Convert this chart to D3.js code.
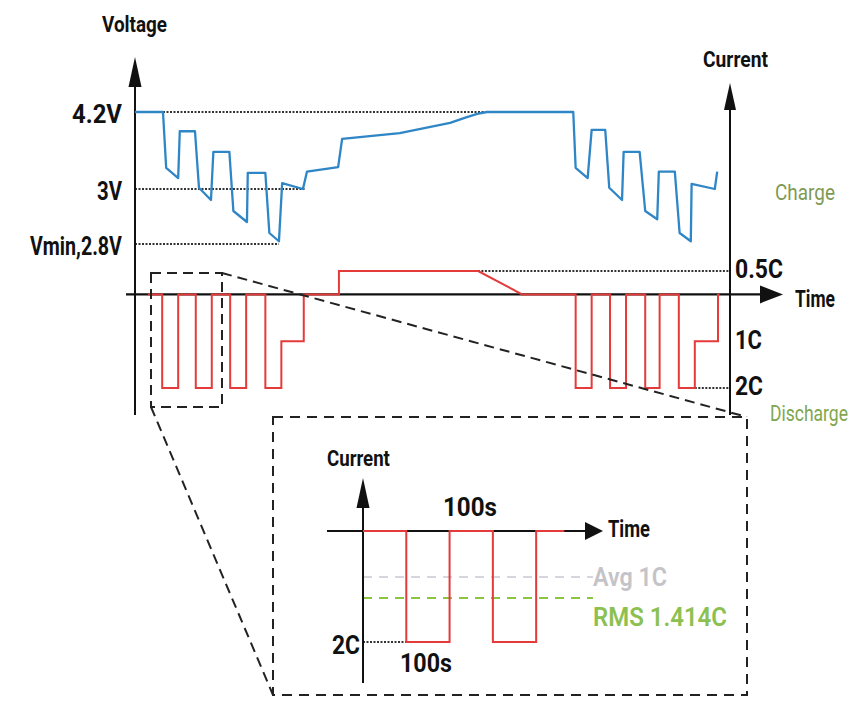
<!DOCTYPE html>
<html>
<head>
<meta charset="utf-8">
<script src="https://cdn.jsdelivr.net/npm/d3@7"></script>
<style>
  body { margin: 0; background: #fff; }
  text { font-family: "Roboto", "Liberation Sans", sans-serif; }
</style>
</head>
<body>
<script>
// --- datos (tiempo en s, tension en V, corriente en C) ---
const voltageSeries = [
  [0,4.2],[175,4.2],[195,3.33],[270,3.17],[280,3.90],[375,3.90],[400,3.02],[475,2.96],
  [490,3.58],[590,3.58],[615,2.92],[700,2.88],[705,3.25],[815,3.25],[840,2.84],[900,2.81],
  [920,3.09],[1050,3.00],[1075,3.27],[1270,3.34],[1295,3.78],[1655,3.87],[1970,4.03],
  [2075,4.12],[2140,4.17],[2200,4.2],[2740,4.2],[2755,3.33],[2830,3.17],[2855,3.92],
  [2940,3.92],[2965,3.02],[3045,2.96],[3055,3.58],[3155,3.58],[3190,2.92],[3265,2.89],
  [3275,3.27],[3375,3.27],[3405,2.84],[3475,2.81],[3480,3.08],[3625,3.00],[3640,3.27]
];
const currentSeries = [
  [80,0],[170,0],[170,-2],[270,-2],[270,0],[380,0],[380,-2],[480,-2],[480,0],[595,0],
  [595,-2],[695,-2],[695,0],[815,0],[815,-2],[915,-2],[915,-1],[1055,-1],[1055,0],
  [1275,0],[1275,0.5],[2145,0.5],[2420,0],[2755,0],[2755,-2],[2855,-2],[2855,0],
  [2970,0],[2970,-2],[3070,-2],[3070,0],[3190,0],[3190,-2],[3280,-2],[3280,0],[3400,0],
  [3400,-2],[3500,-2],[3500,-1],[3645,-1],[3645,0],[3655,0]
];
const voltageTicks = [4.2, 3.0, 2.8];
const voltageTickLabels = ["4.2V", "3V", "Vmin,2.8V"];
const voltageGuideEnd = [2450, 1060, 900];
const currentTicks = [0.5, -1, -2];
const currentTickLabels = ["0.5C", "1C", "2C"];
const currentGuideStart = [2100, null, 3500];

// recuadro ampliado: dos pulsos de 100 s a 2C
const insetSeries = [[0,0],[100,0],[100,-2],[200,-2],[200,0],[300,0],[300,-2],[400,-2],[400,0],[465,0]];
const insetLevels = [-1, -1.414];
const insetLevelLabels = ["Avg 1C", "RMS 1.414C"];

const W = 856, H = 701;
const svg = d3.select("body").append("svg").attr("width", W).attr("height", H);

// escalas (el dibujo original no es lineal en tension)
const x = d3.scaleLinear().domain([0, 3720]).range([135, 730]);
const yV = d3.scaleLinear().domain([2.8, 3.0, 4.2]).range([244, 189, 112]);
const yI = d3.scaleLinear().domain([-2, 0.5]).range([388, 271]);
const xIn = d3.scaleLinear().domain([0, 465]).range([363, 564.3]);
const yIn = d3.scaleLinear().domain([-2, -1.414, -1, 0]).range([642, 598, 577, 531]);

const INK = "#111";
const DASH = "#222";

// texto estrecho: se mide y se comprime en horizontal con transform
function label(g, txt, x0, width, cy, size, color, weight) {
  const t = g.append("text")
    .attr("x", 0).attr("y", 0)
    .attr("font-size", size)
    .attr("font-weight", weight || 700)
    .attr("fill", color || INK)
    .text(txt);
  const natural = t.node().getComputedTextLength();
  const sx = natural > 0 ? width / natural : 1;
  t.attr("transform", `translate(${x0},${cy + size * 0.36}) scale(${sx},1)`);
}
function arrowUp(g, ax, tip, base, half) {
  g.append("path").attr("d", `M${ax},${tip}L${ax + half},${base}L${ax - half},${base}Z`).attr("fill", INK);
}
function arrowRight(g, ay, tip, base, half) {
  g.append("path").attr("d", `M${tip},${ay}L${base},${ay - half}L${base},${ay + half}Z`).attr("fill", INK);
}

const main = svg.append("g");

// lineas de guia punteadas
voltageTicks.forEach((v, i) => {
  main.append("line")
    .attr("x1", x(0)).attr("x2", x(voltageGuideEnd[i]))
    .attr("y1", yV(v)).attr("y2", yV(v))
    .attr("stroke", "#333").attr("stroke-width", 2).attr("stroke-dasharray", "2,1.5");
});
currentTicks.forEach((c, i) => {
  if (currentGuideStart[i] === null) return;
  main.append("line")
    .attr("x1", x(currentGuideStart[i])).attr("x2", x(3720))
    .attr("y1", yI(c)).attr("y2", yI(c))
    .attr("stroke", "#333").attr("stroke-width", 2).attr("stroke-dasharray", "2,1.5");
});

// lineas discontinuas del zoom
const zoomG = svg.append("g").attr("fill", "none").attr("stroke", DASH)
  .attr("stroke-width", 2).attr("stroke-dasharray", "10,6");
zoomG.append("rect").attr("x", 151).attr("y", 273).attr("width", 71).attr("height", 134);
zoomG.append("line").attr("x1", 222).attr("y1", 273).attr("x2", 747).attr("y2", 417);
zoomG.append("line").attr("x1", 151).attr("y1", 407).attr("x2", 273).attr("y2", 695);
zoomG.append("rect").attr("x", 273).attr("y", 417).attr("width", 474).attr("height", 278)
  .attr("fill", "#fff").attr("stroke-dasharray", "10,7");

// ejes principales
main.append("line").attr("x1", 135).attr("x2", 135).attr("y1", 85).attr("y2", 415).attr("stroke", INK).attr("stroke-width", 2);
arrowUp(main, 135, 57, 87, 6.5);
main.append("line").attr("x1", 730).attr("x2", 730).attr("y1", 108).attr("y2", 415).attr("stroke", INK).attr("stroke-width", 2);
arrowUp(main, 730, 83, 110, 6);
main.append("line").attr("x1", 126).attr("x2", 762).attr("y1", yI(0)).attr("y2", yI(0)).attr("stroke", INK).attr("stroke-width", 2.2);
arrowRight(main, yI(0), 783, 760, 9);

// series
const lineV = d3.line().x(d => x(d[0])).y(d => yV(d[1]));
const lineI = d3.line().x(d => x(d[0])).y(d => yI(d[1]));
main.append("path").datum(voltageSeries).attr("d", lineV)
  .attr("fill", "none").attr("stroke", "#2f86c6").attr("stroke-width", 2.3).attr("stroke-linejoin", "round");
main.append("path").datum(currentSeries).attr("d", lineI)
  .attr("fill", "none").attr("stroke", "#e53a3a").attr("stroke-width", 2);

// textos principales
const voltageLabelWidth = [50, 25, 92];
voltageTicks.forEach((v, i) => {
  label(main, voltageTickLabels[i], 122 - voltageLabelWidth[i], voltageLabelWidth[i], yV(v) + 2, 26);
});
const currentLabelWidth = [48, 27, 28];
currentTicks.forEach((c, i) => {
  label(main, currentTickLabels[i], 735, currentLabelWidth[i], yI(c) - 2, 26);
});
label(main, "Voltage", 102, 65, 24, 22);
label(main, "Current", 703, 65, 59, 22);
label(main, "Time", 795, 40, 298, 24);
label(main, "Charge", 775, 60, 192, 22, "#7e9a52", 400);
label(main, "Discharge", 770, 78, 413, 22, "#7fa64e", 400);

// recuadro
const inset = svg.append("g");
insetLevels.forEach((lv, i) => {
  inset.append("line")
    .attr("x1", xIn(0)).attr("x2", 593)
    .attr("y1", yIn(lv)).attr("y2", yIn(lv))
    .attr("stroke", i === 0 ? "#d6d6de" : "#8cc63f")
    .attr("stroke-width", 2).attr("stroke-dasharray", "9,7");
});
inset.append("line").attr("x1", xIn(0)).attr("x2", xIn(100)).attr("y1", yIn(-2)).attr("y2", yIn(-2))
  .attr("stroke", "#333").attr("stroke-width", 2).attr("stroke-dasharray", "2,1.5");
inset.append("line").attr("x1", 363).attr("x2", 363).attr("y1", 505).attr("y2", 683).attr("stroke", INK).attr("stroke-width", 2);
arrowUp(inset, 363, 478, 508, 6.5);
inset.append("line").attr("x1", 327).attr("x2", 588).attr("y1", yIn(0)).attr("y2", yIn(0)).attr("stroke", INK).attr("stroke-width", 2.2);
arrowRight(inset, yIn(0), 603, 585, 9);
const lineIn = d3.line().x(d => xIn(d[0])).y(d => yIn(d[1]));
inset.append("path").datum(insetSeries).attr("d", lineIn)
  .attr("fill", "none").attr("stroke", "#e53a3a").attr("stroke-width", 2);

label(inset, "Current", 327, 63, 458, 22);
label(inset, "Time", 608, 42, 528, 24);
label(inset, "100s", 443, 54, 507, 26);
label(inset, "100s", 400, 52, 663, 26);
label(inset, "2C", 332, 28, 645, 26);
label(inset, insetLevelLabels[0], 593, 74, 577, 25, "#c4c4c8", 600);
label(inset, insetLevelLabels[1], 593, 134, 617, 25, "#8cc152", 600);
</script>
</body>
</html>
